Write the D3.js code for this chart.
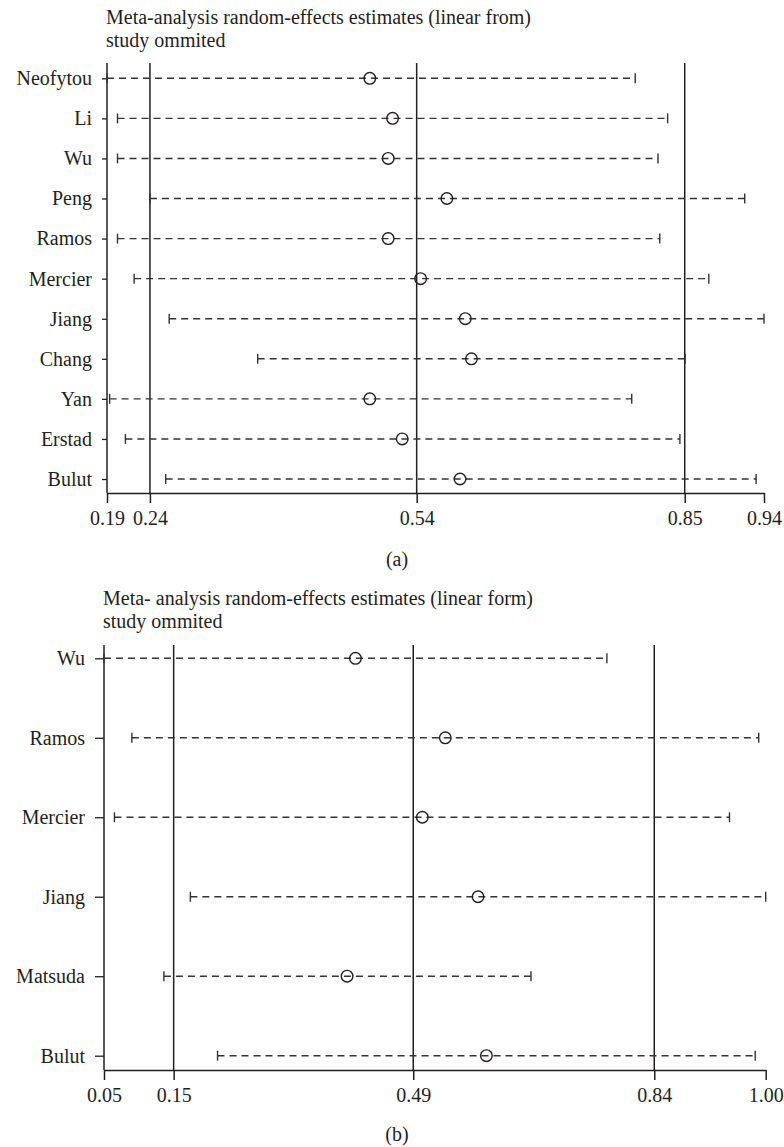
<!DOCTYPE html>
<html><head><meta charset="utf-8">
<script src="https://cdn.jsdelivr.net/npm/d3@7/dist/d3.min.js"></script>
<style>
body{margin:0;background:#fff;}
text{font-family:"Liberation Serif","Times New Roman",serif;fill:#231f20;}
</style></head>
<body>
<svg id="chart" width="784" height="1147"></svg>
<script>
// ---- Panel (a) data ----
const studiesA = ["Neofytou","Li","Wu","Peng","Ramos","Mercier","Jiang","Chang","Yan","Erstad","Bulut"];
const estA   = [0.490,0.516,0.511,0.578,0.511,0.548,0.599,0.606,0.490,0.527,0.593];
const lowerA = [0.190,0.202,0.202,0.239,0.202,0.221,0.261,0.362,0.193,0.211,0.257];
const upperA = [0.793,0.830,0.819,0.918,0.821,0.877,0.940,0.850,0.789,0.844,0.931];
const ticksA = [0.19,0.239,0.5435,0.8495,0.94];
const refLinesA = [0.239,0.5435,0.8495];
const titleA = ["Meta-analysis random-effects estimates (linear from)","study ommited"];

// ---- Panel (b) data ----
const studiesB = ["Wu","Ramos","Mercier","Jiang","Matsuda","Bulut"];
const estB   = [0.411,0.540,0.507,0.587,0.399,0.599];
const lowerB = [0.050,0.090,0.065,0.174,0.136,0.213];
const upperB = [0.772,0.990,0.948,1.000,0.663,0.985];
const ticksB = [0.05,0.15,0.494,0.84,1.00];
const refLinesB = [0.15,0.494,0.84];
const titleB = ["Meta- analysis random-effects estimates (linear form)","study ommited"];

const svg = d3.select("#chart");

function panel(cfg){
  const g = svg.append("g");
  const x = d3.scaleLinear().domain([cfg.ticks[0], cfg.ticks[cfg.ticks.length-1]]).range([cfg.x0, cfg.x1]);
  const y = d3.scalePoint().domain(cfg.studies).range([cfg.yFirst, cfg.yLast]);
  const fs = 20;
  // title
  cfg.title.forEach((t,i)=>{
    g.append("text").attr("x", cfg.x0 - 1).attr("y", cfg.titleY + i*23)
      .attr("font-size", fs).text(t);
  });
  // left axis line
  g.append("line").attr("x1", cfg.x0).attr("x2", cfg.x0).attr("y1", cfg.top).attr("y2", cfg.bottom)
    .attr("stroke","#231f20").attr("stroke-width",1.5);
  // reference lines
  g.selectAll(".ref").data(cfg.refs).join("line")
    .attr("x1", d=>x(d)).attr("x2", d=>x(d)).attr("y1", cfg.top).attr("y2", cfg.bottom)
    .attr("stroke","#231f20").attr("stroke-width",1.5);
  // y axis ticks & labels
  const ya = g.append("g").attr("transform",`translate(${cfg.x0},0)`)
    .call(d3.axisLeft(y).tickSize(cfg.ytick).tickSizeOuter(0).tickPadding(cfg.ypad));
  ya.select(".domain").remove();
  ya.selectAll("line").attr("stroke","#231f20").attr("stroke-width",1.3);
  ya.selectAll("text").attr("font-size", fs).attr("font-family",null).attr("fill","#231f20");
  // x axis
  const xa = g.append("g").attr("transform",`translate(0,${cfg.bottom})`)
    .call(d3.axisBottom(x).tickValues(cfg.ticks).tickFormat(d3.format(".2f")).tickSize(10).tickSizeOuter(0).tickPadding(8));
  xa.select(".domain").attr("stroke","#231f20").attr("stroke-width",1.5);
  xa.selectAll("line").attr("stroke","#231f20").attr("stroke-width",1.5);
  xa.selectAll("text").attr("font-size", fs).attr("font-family",null).attr("fill","#231f20");
  // intervals
  const rows = cfg.studies.map((s,i)=>({s, est:cfg.est[i], lo:cfg.lower[i], hi:cfg.upper[i]}));
  const r = g.selectAll(".row").data(rows).join("g");
  r.append("line").attr("x1",d=>x(d.lo)).attr("x2",d=>x(d.hi)).attr("y1",d=>y(d.s)).attr("y2",d=>y(d.s))
    .attr("stroke","#333").attr("stroke-width",1.4).attr("stroke-dasharray","7,5");
  r.append("line").attr("x1",d=>x(d.lo)).attr("x2",d=>x(d.lo)).attr("y1",d=>y(d.s)-5).attr("y2",d=>y(d.s)+5)
    .attr("stroke","#333").attr("stroke-width",1.4);
  r.append("line").attr("x1",d=>x(d.hi)).attr("x2",d=>x(d.hi)).attr("y1",d=>y(d.s)-5).attr("y2",d=>y(d.s)+5)
    .attr("stroke","#333").attr("stroke-width",1.4);
  r.append("circle").attr("cx",d=>x(d.est)).attr("cy",d=>y(d.s)).attr("r",5.8)
    .attr("fill","none").attr("stroke","#231f20").attr("stroke-width",1.4);
  // caption
  g.append("text").attr("x", cfg.capX).attr("y", cfg.capY).attr("text-anchor","middle")
    .attr("font-size", fs).text(cfg.caption);
}

panel({studies:studiesA, est:estA, lower:lowerA, upper:upperA, ticks:ticksA, refs:refLinesA, title:titleA,
  x0:107, x1:764, top:63, bottom:493, yFirst:78.3, yLast:479, titleY:24, ytick:5, ypad:10,
  capX:397, capY:566, caption:"(a)"});
panel({studies:studiesB, est:estB, lower:lowerB, upper:upperB, ticks:ticksB, refs:refLinesB, title:titleB,
  x0:104, x1:765.7, top:645, bottom:1070, yFirst:658.3, yLast:1055.7, titleY:605, ytick:9, ypad:10,
  capX:397, capY:1141, caption:"(b)"});
</script>
</body></html>
